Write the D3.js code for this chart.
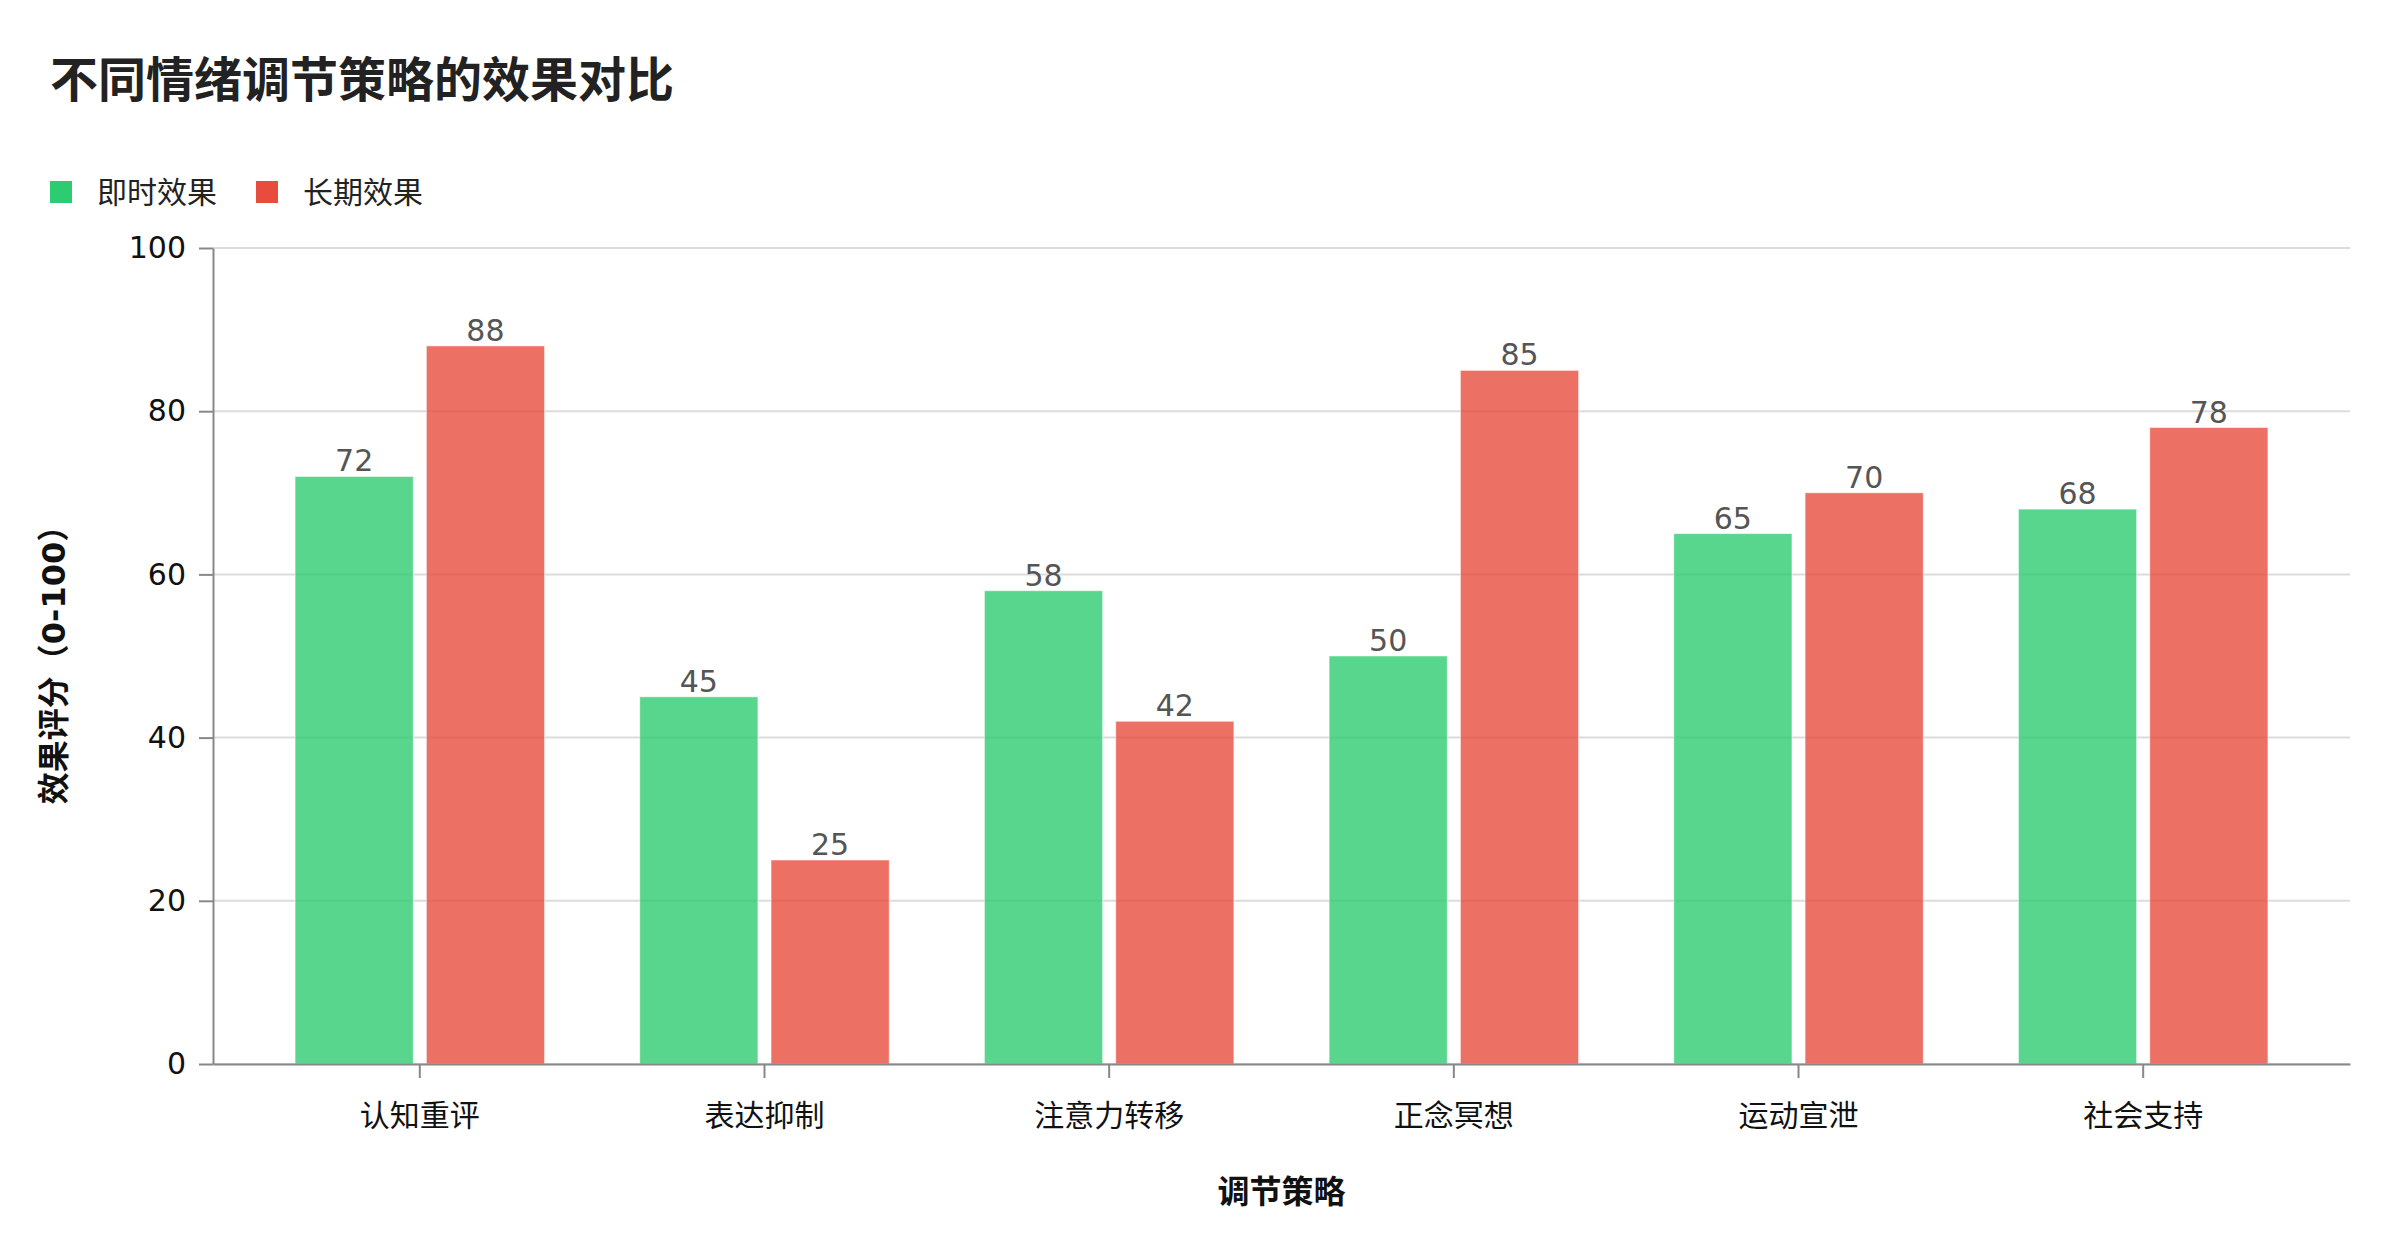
<!DOCTYPE html>
<html>
<head>
<meta charset="utf-8">
<script src="https://cdn.jsdelivr.net/npm/d3@7"></script>
<style>
  body { margin: 0; background: #fff; }
  svg { font-family: "DejaVu Sans", "Noto Sans CJK SC", sans-serif; }
</style>
</head>
<body>
<svg id="chart" width="2400" height="1260"></svg>
<script>
const strategies = ['认知重评', '表达抑制', '注意力转移', '正念冥想', '运动宣泄', '社会支持'];
const seriesNames = ['即时效果', '长期效果'];
const immediateScores = [72, 45, 58, 50, 65, 68];
const longTermScores = [88, 25, 42, 85, 70, 78];
const yTicks = [0, 20, 40, 60, 80, 100];
const seriesColors = ['#2ecc71', '#e74c3c'];

const width = 2400;
const margin = {top: 248, right: 50, bottom: 196, left: 213};
const plotW = width - margin.left - margin.right;
const plotH = 1260 - margin.top - margin.bottom;

const rows = strategies.map((s, i) => ({
  strategy: s,
  values: [immediateScores[i], longTermScores[i]]
}));

const svg = d3.select('#chart');

// title
svg.append('text')
  .attr('x', 50)
  .attr('y', 97)
  .attr('font-size', 48)
  .attr('font-weight', 'bold')
  .attr('fill', '#222')
  .text('不同情绪调节策略的效果对比');

// legend
const legend = svg.append('g').attr('transform', 'translate(50, 181)');
const legendX = [0, 206];
seriesNames.forEach((name, i) => {
  const item = legend.append('g').attr('transform', `translate(${legendX[i]}, 0)`);
  item.append('rect')
    .attr('width', 22).attr('height', 22)
    .attr('fill', seriesColors[i]);
  item.append('text')
    .attr('x', 47).attr('y', 11)
    .attr('dy', '0.35em')
    .attr('font-size', 30)
    .attr('fill', '#222')
    .text(name);
});

const g = svg.append('g').attr('transform', `translate(${margin.left}, ${margin.top})`);

const x0 = d3.scaleBand()
  .domain(strategies)
  .range([0, plotW])
  .paddingInner(0.2)
  .paddingOuter(0.2);

const x1 = d3.scaleBand()
  .domain([0, 1])
  .range([0, x0.bandwidth()])
  .padding(0.1);

const y = d3.scaleLinear()
  .domain([0, 100])
  .range([plotH, 0]);

// grid lines
g.append('g')
  .selectAll('line')
  .data(yTicks)
  .enter()
  .append('line')
  .attr('x1', 0)
  .attr('x2', plotW)
  .attr('y1', d => y(d))
  .attr('y2', d => y(d))
  .attr('stroke', '#dcdcdc')
  .attr('stroke-width', 2);

// bars
const groups = g.append('g')
  .selectAll('g')
  .data(rows)
  .enter()
  .append('g')
  .attr('transform', d => `translate(${x0(d.strategy)}, 0)`);

groups.selectAll('rect')
  .data(d => d.values.map((v, i) => ({i, v})))
  .enter()
  .append('rect')
  .attr('x', d => x1(d.i))
  .attr('y', d => y(d.v))
  .attr('width', x1.bandwidth())
  .attr('height', d => plotH - y(d.v))
  .attr('fill', d => seriesColors[d.i])
  .attr('fill-opacity', 0.8)
  .attr('stroke', '#fff')
  .attr('stroke-opacity', 0.5)
  .attr('stroke-width', 1);

groups.selectAll('text')
  .data(d => d.values.map((v, i) => ({i, v})))
  .enter()
  .append('text')
  .attr('x', d => x1(d.i) + x1.bandwidth() / 2)
  .attr('y', d => y(d.v) - 5)
  .attr('text-anchor', 'middle')
  .attr('font-size', 30)
  .attr('fill', '#555')
  .text(d => d.v);

// axes
const xAxis = g.append('g')
  .attr('transform', `translate(0, ${plotH})`)
  .call(d3.axisBottom(x0).tickSize(14).tickSizeOuter(0).tickPadding(27));

const yAxis = g.append('g')
  .call(d3.axisLeft(y).tickValues(yTicks).tickSize(14).tickSizeOuter(0).tickPadding(13));

[xAxis, yAxis].forEach(ax => {
  ax.selectAll('path').attr('stroke', '#888').attr('stroke-width', 2);
  ax.selectAll('line').attr('stroke', '#888').attr('stroke-width', 2);
  ax.selectAll('text')
    .attr('font-size', 30)
    .attr('font-family', '"DejaVu Sans", "Noto Sans CJK SC", sans-serif')
    .attr('fill', '#111');
});

// axis titles
svg.append('text')
  .attr('x', margin.left + plotW / 2)
  .attr('y', 1192)
  .attr('dy', '0.35em')
  .attr('text-anchor', 'middle')
  .attr('font-size', 32)
  .attr('font-weight', 'bold')
  .attr('fill', '#111')
  .text('调节策略');

svg.append('text')
  .attr('transform', `translate(54, ${margin.top + plotH / 2 + 1}) rotate(-90)`)
  .attr('dy', '0.35em')
  .attr('text-anchor', 'middle')
  .attr('font-size', 32)
  .attr('font-weight', 'bold')
  .attr('fill', '#111')
  .text('效果评分（0-100）');
</script>
</body>
</html>
